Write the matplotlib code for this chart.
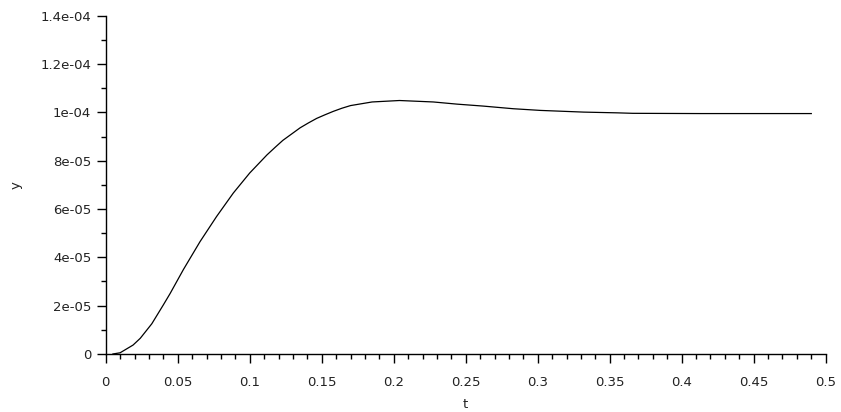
import matplotlib
matplotlib.use('Agg')
import matplotlib.pyplot as plt
from matplotlib.ticker import MultipleLocator

# step response
t = [0.005, 0.01, 0.019, 0.024, 0.032, 0.040, 0.0447, 0.054, 0.0655, 0.077,
     0.0886, 0.100, 0.112, 0.1176, 0.123, 0.129, 0.135, 0.1407, 0.1465, 0.1523,
     0.158, 0.164, 0.170, 0.185, 0.204, 0.2275, 0.244, 0.262, 0.283, 0.302,
     0.332, 0.355, 0.366, 0.413, 0.49]
y_micro = [0.0, 0.5, 3.7, 6.5, 12.5, 20.3, 25.0, 35.0, 46.5, 56.9,
           66.6, 74.9, 82.4, 85.5, 88.4, 91.0, 93.6, 95.6, 97.5, 99.0,
           100.4, 101.7, 102.8, 104.3, 104.9, 104.3, 103.4, 102.6, 101.5, 100.8,
           100.1, 99.8, 99.6, 99.5, 99.5]
y = [v * 1e-6 for v in y_micro]

x_ticks = [0, 0.05, 0.1, 0.15, 0.2, 0.25, 0.3, 0.35, 0.4, 0.45, 0.5]
x_labels = ['0', '0.05', '0.1', '0.15', '0.2', '0.25', '0.3', '0.35', '0.4', '0.45', '0.5']
y_ticks = [0, 2e-5, 4e-5, 6e-5, 8e-5, 1e-4, 1.2e-4, 1.4e-4]
y_labels = ['0', '2e-05', '4e-05', '6e-05', '8e-05', '1e-04', '1.2e-04', '1.4e-04']

plt.rcParams['font.family'] = ['DejaVu Sans']
FS = 9.5

fig = plt.figure(figsize=(8.41, 4.12), dpi=100)
ax = fig.add_axes([0.1257, 0.1408, 0.8561, 0.8211])

ax.plot(t, y, color='black', lw=0.9)

ax.set_xlim(0, 0.5)
ax.set_ylim(0, 1.4e-4)
ax.set_xticks(x_ticks)
ax.set_xticklabels(x_labels)
ax.set_yticks(y_ticks)
ax.set_yticklabels(y_labels)
ax.xaxis.set_minor_locator(MultipleLocator(0.01))
ax.yaxis.set_minor_locator(MultipleLocator(1e-5))

for side in ['top', 'right']:
	ax.spines[side].set_visible(False)
for side in ['left', 'bottom']:
	ax.spines[side].set_linewidth(1.0)

ax.tick_params(which='major', direction='out', length=6.5, width=1.0, labelsize=FS, colors='black', labelcolor='#222222')
ax.tick_params(axis='x', which='major', pad=9.5)
ax.tick_params(axis='y', which='major', pad=4)
ax.tick_params(which='minor', direction='out', length=3.5, width=1.0)

ax.set_xlabel('t', fontsize=FS, labelpad=6, color='#222222')
ax.set_ylabel('y', fontsize=FS, labelpad=13, color='#222222')

fig.savefig('out.png', dpi=100)
